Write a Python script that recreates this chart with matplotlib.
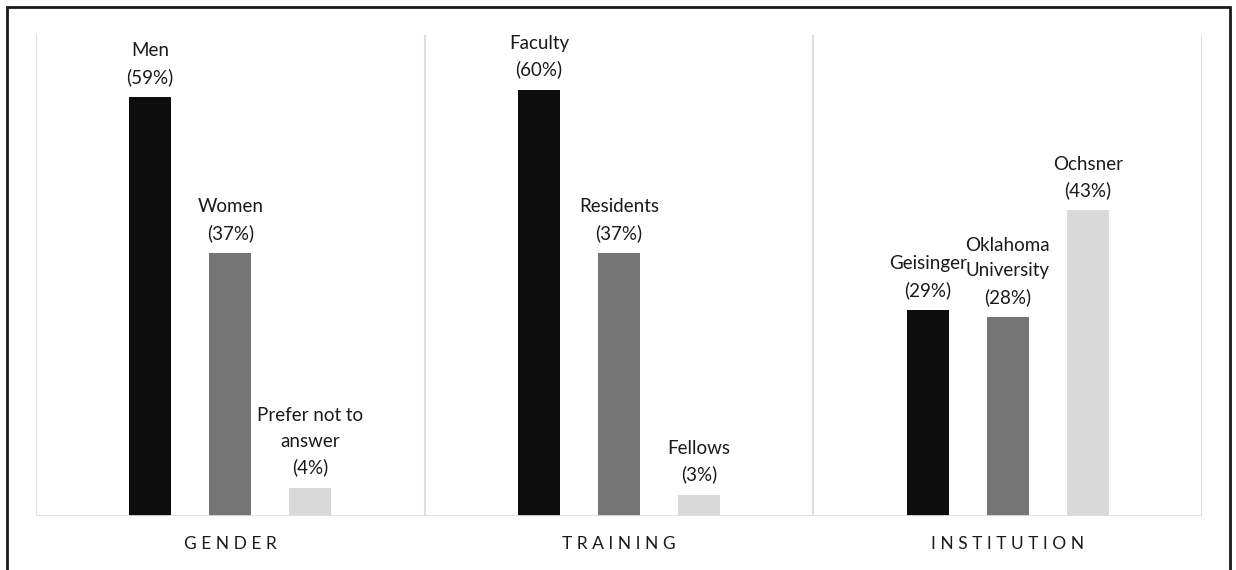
import matplotlib
matplotlib.use("Agg")
import matplotlib.pyplot as plt
from matplotlib.patches import Rectangle
import numpy as np

plt.rcParams['font.family'] = ['Lato', 'DejaVu Sans']

groups = ['GENDER', 'TRAINING', 'INSTITUTION']
labels = [['Men', 'Women', 'Prefer not to\nanswer'],
          ['Faculty', 'Residents', 'Fellows'],
          ['Geisinger', 'Oklahoma\nUniversity', 'Ochsner']]
values = [[59, 37, 4],
          [60, 37, 3],
          [29, 28, 43]]
colors = ['#0d0d0d', '#757575', '#d9d9d9']

fig = plt.figure(figsize=(12.36, 5.70), dpi=100)
ax = fig.add_axes([0.0291, 0.0947, 0.9434, 0.8439])

offsets = np.array([-0.206, 0.0, 0.206])
for g in range(len(groups)):
    xs = g + 0.5 + offsets
    for i in range(3):
        ax.bar(xs[i], values[g][i], width=0.108, color=colors[i], zorder=3)
        ax.annotate('%s\n(%d%%)' % (labels[g][i], values[g][i]),
                    xy=(xs[i], values[g][i]), xytext=(0, 8),
                    textcoords='offset points', ha='center', va='bottom',
                    fontsize=13.5, linespacing=1.6, color='#1a1a1a')
    ax.text(g + 0.5, -0.042, ' '.join(groups[g]), transform=ax.get_xaxis_transform(),
            ha='center', va='top', fontsize=12.5, color='#1a1a1a')

# light separators and baseline
for x in range(len(groups) + 1):
    ax.axvline(x, color='#dedede', lw=1.5, zorder=1)
ax.axhline(0, color='#dedede', lw=2, zorder=4)

ax.set_xlim(0, 3)
ax.set_ylim(0, 67.7)
ax.axis('off')

# outer frame
fig.patches.append(Rectangle((0.0057, -0.05), 0.9894, 1.0377, transform=fig.transFigure,
                             fill=False, edgecolor='#1a1a1a', lw=2))

fig.savefig('out.png', dpi=100)
